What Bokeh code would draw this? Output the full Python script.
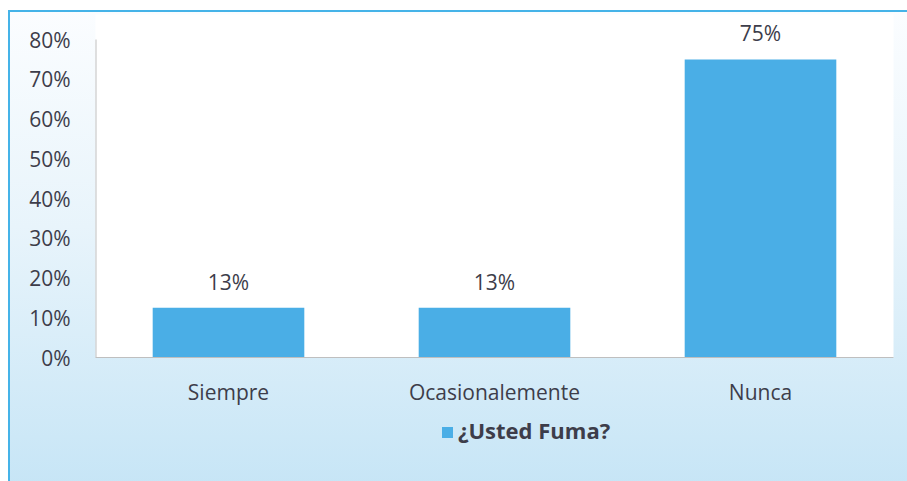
from bokeh.plotting import figure
from bokeh.models import ColumnDataSource, FixedTicker, NumeralTickFormatter, LabelSet, Div
from bokeh.layouts import column
from bokeh.core.properties import value
from bokeh.embed import file_html
from bokeh.resources import INLINE

categories = ["Siempre", "Ocasionalemente", "Nunca"]
values = [0.125, 0.125, 0.75]
value_labels = ["13%", "13%", "75%"]
y_ticks = [0.0, 0.1, 0.2, 0.3, 0.4, 0.5, 0.6, 0.7, 0.8]
series_name = "¿Usted Fuma?"

FONT = "Open Sans"
TEXT = "#3d3d4a"
BAR = "#4aaee6"
EDGE = "#45b3e8"
AXIS = "#bfbfbf"

# frame spans from the 0% baseline (y=357) up to y=14; 80% sits at y=39
PX_PER_UNIT = 318 / y_ticks[-1]
y_end = y_ticks[-1] + 25 / PX_PER_UNIT

src = ColumnDataSource(dict(cat=categories, val=values, lab=value_labels))

p = figure(x_range=categories, y_range=(0, y_end), width=907, height=412,
           output_backend="svg", toolbar_location=None, margin=0,
           min_border_left=95, min_border_right=14, min_border_top=14, min_border_bottom=55)
p.border_fill_color = None
p.background_fill_color = "white"
p.outline_line_color = None
p.xgrid.visible = False
p.ygrid.visible = False

r = p.vbar(x="cat", top="val", width=0.57, source=src, fill_color=BAR, line_color=None)
# value axis line, limited to the 0%..80% tick span
p.segment(x0=[0], y0=[y_ticks[0]], x1=[0], y1=[y_ticks[-1]], line_color=AXIS, line_width=2)

labels = LabelSet(x="cat", y="val", text="lab", source=src, y_offset=26,
                  text_align="center", text_baseline="middle", text_font=value(FONT),
                  text_font_size="21px", text_color=TEXT)
p.add_layout(labels)

for ax in (p.xaxis[0], p.yaxis[0]):
    ax.major_tick_line_color = None
    ax.minor_tick_line_color = None
    ax.major_tick_out = 0
    ax.major_tick_in = 0
    ax.major_label_text_font = FONT
    ax.major_label_text_font_size = "21px"
    ax.major_label_text_color = TEXT

p.xaxis.axis_line_color = AXIS
p.yaxis.axis_line_color = None
p.yaxis.ticker = FixedTicker(ticks=y_ticks)
p.yaxis.formatter = NumeralTickFormatter(format="0%")
p.yaxis.major_label_standoff = 25
p.xaxis.major_label_standoff = 20

legend_html = (
    f'<div style="margin-left:442px; margin-top:6px; white-space:nowrap; '
    f'font-family:\'{FONT}\'; font-weight:bold; font-size:22px; color:{TEXT}; line-height:24px;">'
    f'<span style="display:inline-block; width:11px; height:11px; background:{BAR}; '
    f'margin-right:5px; vertical-align:middle; position:relative; top:-1px;"></span>'
    f'{series_name}</div>'
)
legend_div = Div(text=legend_html, width=907, height=69, margin=0)

layout = column(p, legend_div, spacing=0, margin=0, styles={"background": (
    f"linear-gradient({EDGE},{EDGE}) 8px 10px / 100% 2px no-repeat, "
    f"linear-gradient({EDGE},{EDGE}) 8px 10px / 2px 100% no-repeat, "
    "linear-gradient(to bottom, #fbfdff 0%, #e8f4fb 45%, #c6e5f6 100%) 8px 10px / 100% 100% no-repeat, "
    "#ffffff")})

open("out.html", "w").write(file_html(layout, INLINE))
